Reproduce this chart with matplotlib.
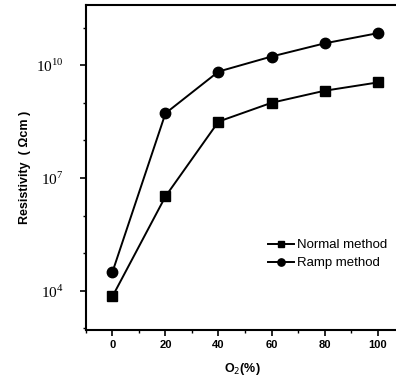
import numpy as np
import matplotlib.pyplot as plt
from matplotlib.ticker import FixedLocator, NullFormatter

# O2 content (%) and resistivity (ohm cm)
o2 = [0, 20, 40, 60, 80, 100]
normal = [10**3.85, 10**6.51, 10**8.50, 10**9.00, 10**9.32, 10**9.54]
ramp = [10**4.50, 10**8.72, 10**9.83, 10**10.23, 10**10.58, 10**10.85]
ytick_vals = [1e4, 1e7, 1e10]
ytick_labels = ['10$^{\\mathregular{4}}$', '10$^{\\mathregular{7}}$', '10$^{\\mathregular{10}}$']

fig = plt.figure(figsize=(3.96, 3.85), dpi=100)
ax = fig.add_axes([0.217, 0.143, 0.79, 0.844])

ax.plot(o2, normal, '-s', color='black', lw=1.4, ms=7, label='Normal method')
ax.plot(o2, ramp, '-o', color='black', lw=1.4, ms=7.5, label='Ramp method')

ax.set_yscale('log')
ax.set_xlim(-10, 108)
ax.set_ylim(10**2.96, 10**11.6)

ax.set_xticks(o2)
ax.set_xticklabels([str(v) for v in o2], fontsize=8, fontweight='bold',
                   family='Liberation Sans')
ax.xaxis.set_minor_locator(FixedLocator([-10, 10, 30, 50, 70, 90]))

ax.yaxis.set_major_locator(FixedLocator(ytick_vals))
ax.set_yticklabels(ytick_labels, fontsize=11, family='Liberation Serif')
ax.yaxis.set_minor_locator(FixedLocator([10.0**k for k in range(3, 12)]))
ax.yaxis.set_minor_formatter(NullFormatter())

ax.tick_params(which='major', direction='out', length=4, width=1.2)
ax.tick_params(axis='y', which='major', pad=12)
ax.tick_params(which='minor', direction='out', length=2.5, width=1.0)
for sp in ax.spines.values():
    sp.set_linewidth(1.5)

ax.set_xlabel('O$_2$(%)', fontsize=9, fontweight='bold', family='Liberation Sans',
              labelpad=8)
ax.set_ylabel('Resistivity  ( \u03a9cm )', fontsize=9, fontweight='bold',
              family='Liberation Sans', labelpad=4)

ax.legend(loc='lower right', bbox_to_anchor=(1.0, 0.15), frameon=False,
          handlelength=2.0, handletextpad=0.2, labelspacing=0.45,
          markerscale=0.7, prop={'family': 'Liberation Sans', 'size': 9.5})

fig.savefig('out.png', dpi=100)
